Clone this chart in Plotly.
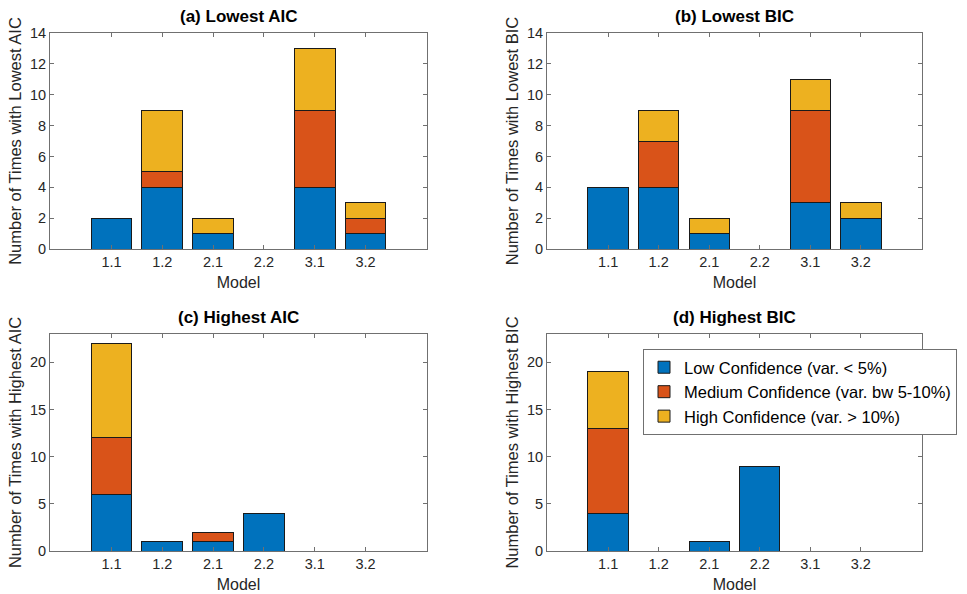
import plotly.graph_objects as go
from plotly.subplots import make_subplots

# Model variants on the x axis
models = ["1.1", "1.2", "2.1", "2.2", "3.1", "3.2"]

# Counts per confidence class for each panel
lowest_aic_low = [2, 4, 1, 0, 4, 1]
lowest_aic_med = [0, 1, 0, 0, 5, 1]
lowest_aic_high = [0, 4, 1, 0, 4, 1]

lowest_bic_low = [4, 4, 1, 0, 3, 2]
lowest_bic_med = [0, 3, 0, 0, 6, 0]
lowest_bic_high = [0, 2, 1, 0, 2, 1]

highest_aic_low = [6, 1, 1, 4, 0, 0]
highest_aic_med = [6, 0, 1, 0, 0, 0]
highest_aic_high = [10, 0, 0, 0, 0, 0]

highest_bic_low = [4, 0, 1, 9, 0, 0]
highest_bic_med = [9, 0, 0, 0, 0, 0]
highest_bic_high = [6, 0, 0, 0, 0, 0]

series_names = [
    "Low Confidence (var. < 5%)",
    "Medium Confidence (var. bw 5-10%)",
    "High Confidence (var. > 10%)",
]
colors = ["#0072BD", "#D95319", "#EDB120"]

panels = [
    ("(a) Lowest AIC", "Number of Times with Lowest AIC",
     [lowest_aic_low, lowest_aic_med, lowest_aic_high], 1, 1),
    ("(b) Lowest BIC", "Number of Times with Lowest BIC",
     [lowest_bic_low, lowest_bic_med, lowest_bic_high], 1, 2),
    ("(c) Highest AIC", "Number of Times with Highest AIC",
     [highest_aic_low, highest_aic_med, highest_aic_high], 2, 1),
    ("(d) Highest BIC", "Number of Times with Highest BIC",
     [highest_bic_low, highest_bic_med, highest_bic_high], 2, 2),
]

FONT = "Liberation Sans, Arial, Helvetica, sans-serif"
TEXT = "#262626"
AXIS = "#707070"
W, H = 967, 594

fig = make_subplots(rows=2, cols=2)

for i, (title, ylab, stacks, r, c) in enumerate(panels):
    for k, vals in enumerate(stacks):
        fig.add_trace(
            go.Bar(
                x=models, y=vals, name=series_names[k],
                marker=dict(color=colors[k], line=dict(color="#1a1a1a", width=1)),
                width=0.8,
                showlegend=(i == 3),
            ),
            row=r, col=c,
        )

# Axis boxes in pixels: (left, right, top, bottom)
boxes = {
    (1, 1): (50, 427, 33, 249),
    (1, 2): (547, 922, 33, 249),
    (2, 1): (50, 427, 334, 551),
    (2, 2): (547, 922, 334, 551),
}
yranges = {1: ([0, 14], 2), 2: ([0, 23], 5)}

for title, ylab, stacks, r, c in panels:
    l, rr, t, b = boxes[(r, c)]
    xd = [l / W, rr / W]
    yd = [1 - b / H, 1 - t / H]
    yr, dt = yranges[r]
    fig.update_xaxes(
        domain=xd, range=[-1.21, 6.21], type="category",
        showline=True, linecolor=AXIS, linewidth=1, mirror="ticks",
        ticks="inside", ticklen=4, tickcolor=AXIS,
        tickfont=dict(family=FONT, size=14.5, color=TEXT),
        title=dict(text="Model", font=dict(family=FONT, size=16, color=TEXT), standoff=7),
        showgrid=False, zeroline=False, automargin=False,
        row=r, col=c,
    )
    fig.update_yaxes(
        domain=yd, range=yr, dtick=dt,
        showline=True, linecolor=AXIS, linewidth=1, mirror="ticks",
        ticks="inside", ticklen=4, tickcolor=AXIS,
        tickfont=dict(family=FONT, size=14.5, color=TEXT),
        title=dict(text=ylab, font=dict(family=FONT, size=16.5, color=TEXT), standoff=4),
        showgrid=False, zeroline=False, automargin=False,
        row=r, col=c,
    )
    fig.add_annotation(
        text="<b>" + title + "</b>", xref="paper", yref="paper",
        x=(l + rr) / 2 / W, y=1 - (t - 5) / H, xanchor="center", yanchor="bottom",
        showarrow=False, font=dict(family=FONT, size=17, color="#000000"),
    )

fig.update_layout(
    width=W, height=H,
    margin=dict(l=0, r=0, t=0, b=0),
    paper_bgcolor="white", plot_bgcolor="white",
    barmode="stack", bargap=0.2,
    legend=dict(
        x=643 / W, y=1 - 349 / H, xanchor="left", yanchor="top",
        bgcolor="white", bordercolor=AXIS, borderwidth=1,
        font=dict(family=FONT, size=16.5, color="#000000"),
        traceorder="normal", tracegroupgap=0, itemwidth=30,
    ),
)

fig.write_html("out.html")
